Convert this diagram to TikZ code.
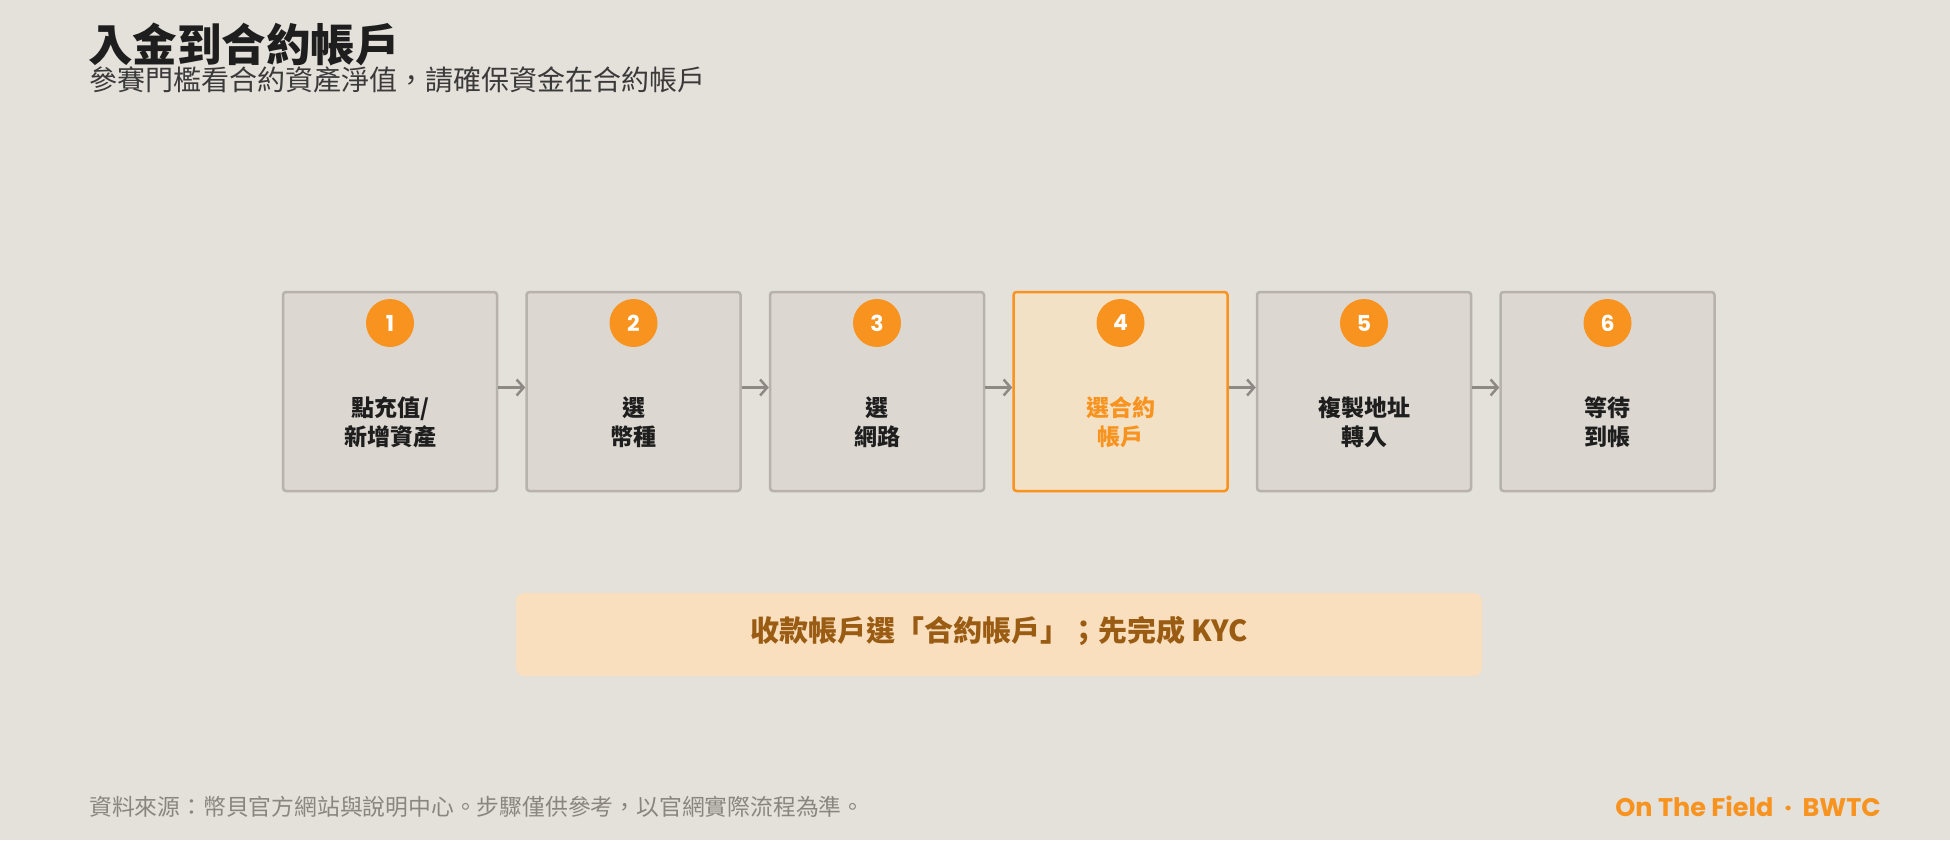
\documentclass[tikz,border=0pt]{standalone}
\usepackage{fontspec}
\setmainfont{Noto Sans CJK TC}
\newfontfamily\popfont{Poppins}
\newfontfamily\titlefont{Noto Sans CJK TC Black}
\usetikzlibrary{arrows.meta}
\definecolor{bg}{HTML}{E4E0DA}
\definecolor{boxfill}{HTML}{DCD8D1}
\definecolor{boxline}{HTML}{B7B2AC}
\definecolor{hifill}{HTML}{F3E1C5}
\definecolor{orange}{HTML}{F7931E}
\definecolor{arrowc}{HTML}{8E8984}
\definecolor{notefill}{HTML}{F9DFBE}
\definecolor{notetext}{HTML}{9A5B13}
\definecolor{titlec}{HTML}{1E1E1E}
\definecolor{subc}{HTML}{3A3A3A}
\definecolor{footc}{HTML}{8A8580}
\tikzset{
  stepbox/.style={draw=boxline, fill=boxfill, line width=2.5pt, rounded corners=3pt,
    minimum width=214pt, minimum height=199pt, inner sep=0pt},
  hibox/.style={stepbox, draw=orange, fill=hifill},
  badge/.style={circle, fill=orange, minimum size=48pt, inner sep=0pt, text=white,
    font=\popfont\bfseries\fontsize{22}{22}\selectfont},
  steptext/.style={align=center, inner sep=0pt, text=titlec,
    font=\bfseries\fontsize{23}{29}\selectfont},
  flow/.style={draw=arrowc, line width=2.5pt, -{Straight Barb[length=7pt,width=16pt,line width=2.5pt]}},
}
\begin{document}
\begin{tikzpicture}[x=1pt,y=-1pt]
\fill[bg] (0,0) rectangle (1950,840);
\useasboundingbox (0,0) rectangle (1950,840);

\node[anchor=west, inner sep=0pt, text=titlec, font=\titlefont\fontsize{44.5}{44.5}\selectfont] (title) at (88,44) {入金到合約帳戶};
\node[anchor=west, inner sep=0pt, text=subc, font=\fontsize{28}{28}\selectfont] (sub) at (89,80) {參賽門檻看合約資產淨值，請確保資金在合約帳戶};

\node[stepbox] (b1) at (390,391.5) {};
\node[stepbox] (b2) at (633.5,391.5) {};
\node[stepbox] (b3) at (877,391.5) {};
\node[hibox]   (b4) at (1120.5,391.5) {};
\node[stepbox] (b5) at (1364,391.5) {};
\node[stepbox] (b6) at (1607.5,391.5) {};

\node[badge] (c1) at (390,323) {1};
\node[badge] (c2) at (633.5,323) {2};
\node[badge] (c3) at (877,323) {3};
\node[badge] (c4) at (1120.5,323) {4};
\node[badge] (c5) at (1364,323) {5};
\node[badge] (c6) at (1607.5,323) {6};

\node[steptext] (t1) at (390,422.5) {點充值/\\新增資產};
\node[steptext] (t2) at (633.5,422.5) {選\\幣種};
\node[steptext] (t3) at (877,422.5) {選\\網路};
\node[steptext, text=orange] (t4) at (1120.5,422.5) {選合約\\帳戶};
\node[steptext] (t5) at (1364,422.5) {複製地址\\轉入};
\node[steptext] (t6) at (1607.5,422.5) {等待\\到帳};

\draw[flow] ([yshift=4pt]b1.east) -- ([yshift=4pt]b2.west);
\draw[flow] ([yshift=4pt]b2.east) -- ([yshift=4pt]b3.west);
\draw[flow] ([yshift=4pt]b3.east) -- ([yshift=4pt]b4.west);
\draw[flow] ([yshift=4pt]b4.east) -- ([yshift=4pt]b5.west);
\draw[flow] ([yshift=4pt]b5.east) -- ([yshift=4pt]b6.west);

\node[fill=notefill, rounded corners=8pt, minimum width=966pt, minimum height=83pt, inner sep=0pt] (note) at (999,634.5) {};
\node[inner sep=0pt, text=notetext, font=\bfseries\fontsize{29}{29}\selectfont] (notetxt) at (999,631) {收款帳戶選「合約帳戶」；先完成 KYC};

\node[anchor=west, inner sep=0pt, text=footc, font=\fontsize{22.8}{22.8}\selectfont] (src) at (89,807) {資料來源：幣貝官方網站與說明中心。步驟僅供參考，以官網實際流程為準。};
\node[anchor=east, inner sep=0pt, text=orange, font=\popfont\bfseries\fontsize{25.5}{25.5}\selectfont] (brand) at (1881,806) {On The Field \ · \ BWTC};
\end{tikzpicture}
\end{document}
